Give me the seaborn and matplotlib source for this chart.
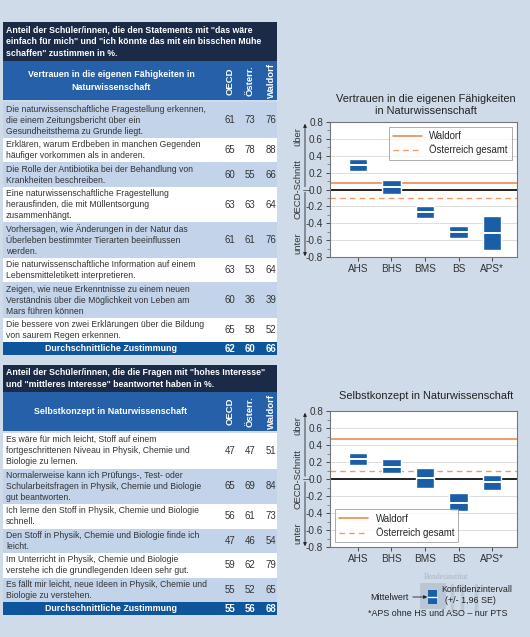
import matplotlib
matplotlib.use("Agg")
import matplotlib.pyplot as plt
import seaborn as sns
import numpy as np
from matplotlib.patches import Rectangle, FancyArrowPatch
from matplotlib.lines import Line2D

# ---------------- data ----------------
schools = ["AHS", "BHS", "BMS", "BS", "APS*"]

# Vertrauen in die eigenen Fähigkeiten
v_low = [0.22, -0.05, -0.34, -0.57, -0.72]
v_high = [0.36, 0.11, -0.19, -0.43, -0.31]
v_mean = [0.29, 0.03, -0.27, -0.50, -0.51]
v_waldorf = 0.08
v_austria = -0.10

# Selbstkonzept
s_low = [0.17, 0.07, -0.10, -0.38, -0.13]
s_high = [0.30, 0.24, 0.13, -0.17, 0.05]
s_mean = [0.23, 0.14, 0.01, -0.28, -0.04]
s_waldorf = 0.47
s_austria = 0.09

t1_title = 'Anteil der Schüler/innen, die den Statements mit "das wäre\neinfach für mich" und "ich könnte das mit ein bisschen Mühe\nschaffen" zustimmen in %.'
t1_head = "Vertrauen in die eigenen Fähigkeiten in\nNaturwissenschaft"
t1_items = [
    "Die naturwissenschaftliche Fragestellung erkennen,\ndie einem Zeitungsbericht über ein\nGesundheitsthema zu Grunde liegt.",
    "Erklären, warum Erdbeben in manchen Gegenden\nhäufiger vorkommen als in anderen.",
    "Die Rolle der Antibiotika bei der Behandlung von\nKrankheiten beschreiben.",
    "Eine naturwissenschaftliche Fragestellung\nherausfinden, die mit Müllentsorgung\nzusammenhängt.",
    "Vorhersagen, wie Änderungen in der Natur das\nÜberleben bestimmter Tierarten beeinflussen\nwerden.",
    "Die naturwissenschaftliche Information auf einem\nLebensmitteletikett interpretieren.",
    "Zeigen, wie neue Erkenntnisse zu einem neuen\nVerständnis über die Möglichkeit von Leben am\nMars führen können",
    "Die bessere von zwei Erklärungen über die Bildung\nvon saurem Regen erkennen.",
]
t1_oecd = [61, 65, 60, 63, 61, 63, 60, 65]
t1_at = [73, 78, 55, 63, 61, 53, 36, 58]
t1_wal = [76, 88, 66, 64, 76, 64, 39, 52]
t1_avg = [62, 60, 66]

t2_title = 'Anteil der Schüler/innen, die die Fragen mit "hohes Interesse"\nund "mittleres Interesse" beantwortet haben in %.'
t2_head = "Selbstkonzept in Naturwissenschaft"
t2_items = [
    "Es wäre für mich leicht, Stoff auf einem\nfortgeschrittenen Niveau in Physik, Chemie und\nBiologie zu lernen.",
    "Normalerweise kann ich Prüfungs-, Test- oder\nSchularbeitsfragen in Physik, Chemie und Biologie\ngut beantworten.",
    "Ich lerne den Stoff in Physik, Chemie und Biologie\nschnell.",
    "Den Stoff in Physik, Chemie und Biologie finde ich\nleicht.",
    "Im Unterricht in Physik, Chemie und Biologie\nverstehe ich die grundlegenden Ideen sehr gut.",
    "Es fällt mir leicht, neue Ideen in Physik, Chemie und\nBiologie zu verstehen.",
]
t2_oecd = [47, 65, 56, 47, 59, 55]
t2_at = [47, 69, 61, 46, 62, 52]
t2_wal = [51, 84, 73, 54, 79, 65]
t2_avg = [55, 56, 68]

col_names = ["OECD", "Österr.", "Waldorf"]
y_ticks = [-0.8, -0.6, -0.4, -0.2, 0.0, 0.2, 0.4, 0.6, 0.8]

# ---------------- style ----------------
sns.set_theme(style="white")
plt.rcParams["font.family"] = ["Liberation Sans", "DejaVu Sans"]

BG = "#d0dbea"
NAVY = "#1b2b47"
HEAD = "#2560a8"
SUMC = "#0f559c"
LIGHT = "#c2d3ea"
BOX = "#1a5ea8"
ORANGE = "#f08a4b"
ORANGE2 = "#f29a66"
TXT = "#333333"

W, H = 530, 637
fig = plt.figure(figsize=(W / 100, H / 100), dpi=100, facecolor=BG)
bg = fig.add_axes([0, 0, 1, 1])
bg.set_xlim(0, W)
bg.set_ylim(H, 0)
bg.axis("off")


def draw_table(top, title, head, items, oecd, at, wal, avg, first_light):
    x0, x1 = 3, 277
    ncol = title.count("\n") + 1
    th = 12.3 * ncol + 2.5
    bg.add_patch(Rectangle((x0, top), x1 - x0, th, color=NAVY, lw=0))
    bg.text(x0 + 3, top + th / 2, title, color="white", fontsize=6.3,
            fontweight="bold", va="center", ha="left", linespacing=1.45)
    y = top + th
    hh = 39
    bg.add_patch(Rectangle((x0, y), x1 - x0, hh, color=HEAD, lw=0))
    bg.text(111, y + hh / 2, head, color="white", fontsize=6.4,
            fontweight="bold", ha="center", va="center", linespacing=1.55)
    cx = [230, 250, 271]
    for c, name in zip(cx, col_names):
        bg.text(c, y + hh / 2, name, color="white", fontsize=6.8,
                fontweight="bold", rotation=90, ha="center", va="center")
    y += hh + 2
    for i, item in enumerate(items):
        n = item.count("\n") + 1
        rh = 11 * n + 2.5
        light = (i % 2 == 0) == first_light
        bg.add_patch(Rectangle((x0, y), x1 - x0, rh,
                               color=LIGHT if light else "white", lw=0))
        bg.text(x0 + 3, y + rh / 2, item, fontsize=6.2, color=TXT,
                ha="left", va="center", linespacing=1.3)
        for c, v in zip(cx, [oecd[i], at[i], wal[i]]):
            bg.text(c, y + rh / 2, str(v), fontsize=6.9, color=TXT,
                    ha="center", va="center")
        y += rh
    bg.add_patch(Rectangle((x0, y), x1 - x0, 13, color=SUMC, lw=0))
    bg.text(111, y + 6.5, "Durchschnittliche Zustimmung", color="white",
            fontsize=6.4, fontweight="bold", ha="center", va="center")
    for c, v in zip(cx, avg):
        bg.text(c, y + 6.5, str(v), color="white", fontsize=6.9,
                fontweight="bold", ha="center", va="center")


draw_table(22, t1_title, t1_head, t1_items, t1_oecd, t1_at, t1_wal, t1_avg, True)
draw_table(365, t2_title, t2_head, t2_items, t2_oecd, t2_at, t2_wal, t2_avg, False)


def px_axes(left, top, right, bottom):
    return fig.add_axes([left / W, 1 - bottom / H, (right - left) / W, (bottom - top) / H])


def draw_chart(top, bottom, title, low, high, mean, wal, aut, legend_loc, title_y):
    ax = px_axes(330, top, 517, bottom)
    ax.set_facecolor("white")
    x = np.arange(len(schools))
    ax.set_ylim(-0.8, 0.8)
    ax.set_xlim(-0.83, 4.74)
    ax.set_yticks(y_ticks)
    ax.set_yticks(np.arange(-8, 9) / 10, minor=True)
    ax.yaxis.grid(True, color="#d8d8d8", lw=0.6)
    ax.set_axisbelow(True)
    ax.set_yticklabels([f"{v:.1f}" for v in y_ticks])
    ax.set_xticks(x)
    ax.set_xticklabels(schools)
    ax.tick_params(axis="both", labelsize=7.2, colors=TXT, length=3,
                   width=0.6, direction="out", pad=2, left=True, bottom=True)
    ax.tick_params(axis="y", which="minor", length=2, width=0.5, left=True,
                   color="#666666")
    for s in ax.spines.values():
        s.set_color("#777777")
        s.set_linewidth(0.8)
    ax.bar(x, np.array(high) - np.array(low), bottom=low, width=0.55,
           color=BOX, zorder=3)
    ax.hlines(mean, x - 0.275, x + 0.275, color="white", lw=1.4, zorder=4)
    ax.axhline(0, color="#222222", lw=1.4, zorder=2)
    ax.axhline(wal, color=ORANGE, lw=1.2, zorder=2)
    ax.axhline(aut, color=ORANGE2, lw=1.0, ls=(0, (4, 3)), zorder=2)
    handles = [Line2D([], [], color=ORANGE, lw=1.2),
               Line2D([], [], color=ORANGE2, lw=1.0, ls=(0, (4, 3)))]
    leg = ax.legend(handles, ["Waldorf", "Österreich gesamt"], loc=legend_loc,
                    fontsize=6.9, frameon=True, fancybox=False,
                    edgecolor="#888888", handlelength=3, borderpad=0.45,
                    labelspacing=0.35)
    leg.get_frame().set_linewidth(0.6)
    bg.text(426, title_y, title, fontsize=7.9, ha="center", va="center",
            color="#222222", linespacing=1.15)
    # left side annotation
    mid = (top + bottom) / 2
    bg.add_patch(FancyArrowPatch((305, mid), (305, top - 1), arrowstyle="-|>",
                                 mutation_scale=5, lw=0.6, color="#222222"))
    bg.add_patch(FancyArrowPatch((305, mid), (305, bottom + 2), arrowstyle="-|>",
                                 mutation_scale=5, lw=0.6, color="#222222"))
    bg.plot([303, 310], [mid, mid], color="#555555", lw=0.6)
    bg.text(298, top + 15, "über", rotation=90, fontsize=6.8, ha="center",
            va="center", color=TXT)
    bg.text(298, mid, "OECD-Schnitt", rotation=90, fontsize=6.8, ha="center",
            va="center", color=TXT)
    bg.text(298, bottom - 14, "unter", rotation=90, fontsize=6.8, ha="center",
            va="center", color=TXT)
    return ax


draw_chart(122, 257, "Vertrauen in die eigenen Fähigkeiten\nin Naturwissenschaft",
           v_low, v_high, v_mean, v_waldorf, v_austria, "upper right", 105)
draw_chart(411, 547, "Selbstkonzept in Naturwissenschaft",
           s_low, s_high, s_mean, s_waldorf, s_austria, "lower left", 396)

# faint logo watermark (shapes only)
bg.text(446, 577, "Bundesinstitut", fontsize=5.5, color="#a9b4c4", ha="center",
        va="center", family="Liberation Serif")
bg.add_patch(Rectangle((420, 583), 26, 26, color="#a8b2c0", alpha=0.5, lw=0))
for lx in [452, 462, 476]:
    bg.plot([lx, lx], [585, 610], color="#b6c0ce", lw=2.5, alpha=0.7)

# key for boxes
bg.add_patch(Rectangle((428, 590), 9, 14, color=BOX, lw=0))
bg.plot([428, 437], [597, 597], color="white", lw=1)
bg.annotate("", xy=(430, 597), xytext=(410, 597),
            arrowprops=dict(arrowstyle="-|>", lw=0.6, color="#222222",
                            mutation_scale=5))
bg.text(409, 597, "Mittelwert", fontsize=6.4, ha="right", va="center",
        color="#222222")
bg.text(441, 590, "Konfidenzintervall", fontsize=6.4, ha="left", va="center",
        color="#222222")
bg.text(445, 600.5, "(+/- 1,96 SE)", fontsize=6.4, ha="left", va="center",
        color="#222222")
bg.text(438, 613, "*APS ohne HS und ASO – nur PTS", fontsize=6.4,
        ha="center", va="center", color="#222222")

fig.savefig("out.png", dpi=100, facecolor=BG)
